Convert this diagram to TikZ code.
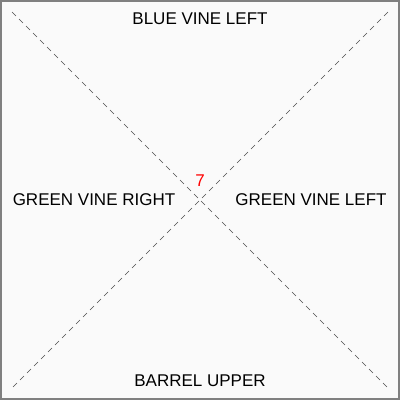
\documentclass[tikz,border=0pt]{standalone}
\usepackage{fontspec}
\setmainfont{Liberation Sans}
\begin{document}
\begin{tikzpicture}[x=1pt,y=-1pt,
  lbl/.style={font=\fontsize{17}{19}\selectfont, text=black, inner sep=0pt},
  diag/.style={draw=black!70, line width=0.6pt, dash pattern=on 5.5pt off 4.4pt}]
\useasboundingbox (0,0) rectangle (400,400);
\fill[fill=black!2] (0,0) rectangle (400,400);
\draw[draw=black!50, line width=2pt] (1,1) rectangle (399,399);
\coordinate (tl) at (12,12);
\coordinate (tr) at (388,12);
\coordinate (bl) at (12,388);
\coordinate (br) at (388,388);
\draw[diag] (tl) -- (br);
\draw[diag] (tr) -- (bl);
\node[lbl] (top) at (200,19) {BLUE VINE LEFT};
\node[lbl] (left) at (94,200) {GREEN VINE RIGHT};
\node[lbl] (right) at (311,200) {GREEN VINE LEFT};
\node[lbl] (bottom) at (200,381) {BARREL UPPER};
\node[lbl, text=red] (num) at (200,181) {7};
\end{tikzpicture}
\end{document}
